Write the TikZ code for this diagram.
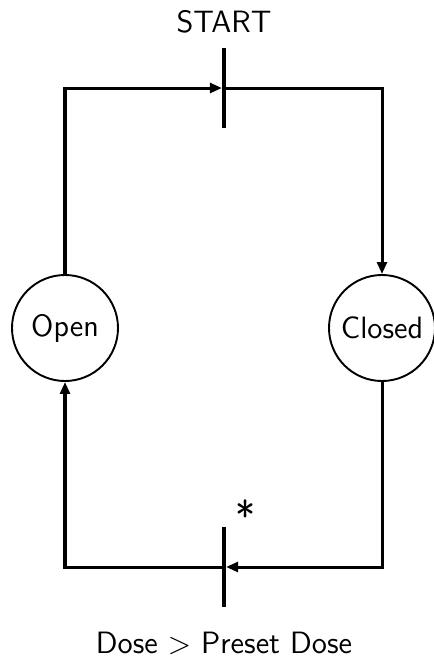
\documentclass[tikz,border=0pt]{standalone}
\usepackage{amsmath}
\usepackage{tikz}
\usetikzlibrary{shapes,arrows.meta,positioning}
\renewcommand{\familydefault}{\sfdefault}

\begin{document}
\begin{tikzpicture}[x=0.366pt,y=-0.366pt,
		every node/.style={font=\fontsize{11.3pt}{13pt}\selectfont},
		state/.style={draw,circle,line width=0.7pt,minimum size=38.8pt,inner sep=0pt},
		bar/.style={fill,rectangle,minimum width=1.1pt,minimum height=29.3pt,inner sep=0pt},
		flow/.style={line width=1.1pt,-{Triangle[length=4.4pt,width=3.6pt]}}]
		\useasboundingbox (0,0) rectangle (434,665);
		\node[state] (open) at (65,328) {Open};
		\node[state] (closed) at (382,328) {Closed};
		\node[bar] (t1) at (224,88) {};
		\node[bar] (t2) at (224,567) {};
		\draw[flow] (open.north) |- (t1.west);
		\draw[flow] (t1.east) -| (closed.north);
		\draw[flow] (closed.south) |- (t2.east);
		\draw[flow] (t2.west) -| (open.south);
		\node (start) at (224,22) {START};
		\node[font=\fontsize{15pt}{17pt}\selectfont] (star) at (246,515) {*};
		\node (cond) at (224,643) {Dose $>$ Preset Dose};
	\end{tikzpicture}
\end{document}
